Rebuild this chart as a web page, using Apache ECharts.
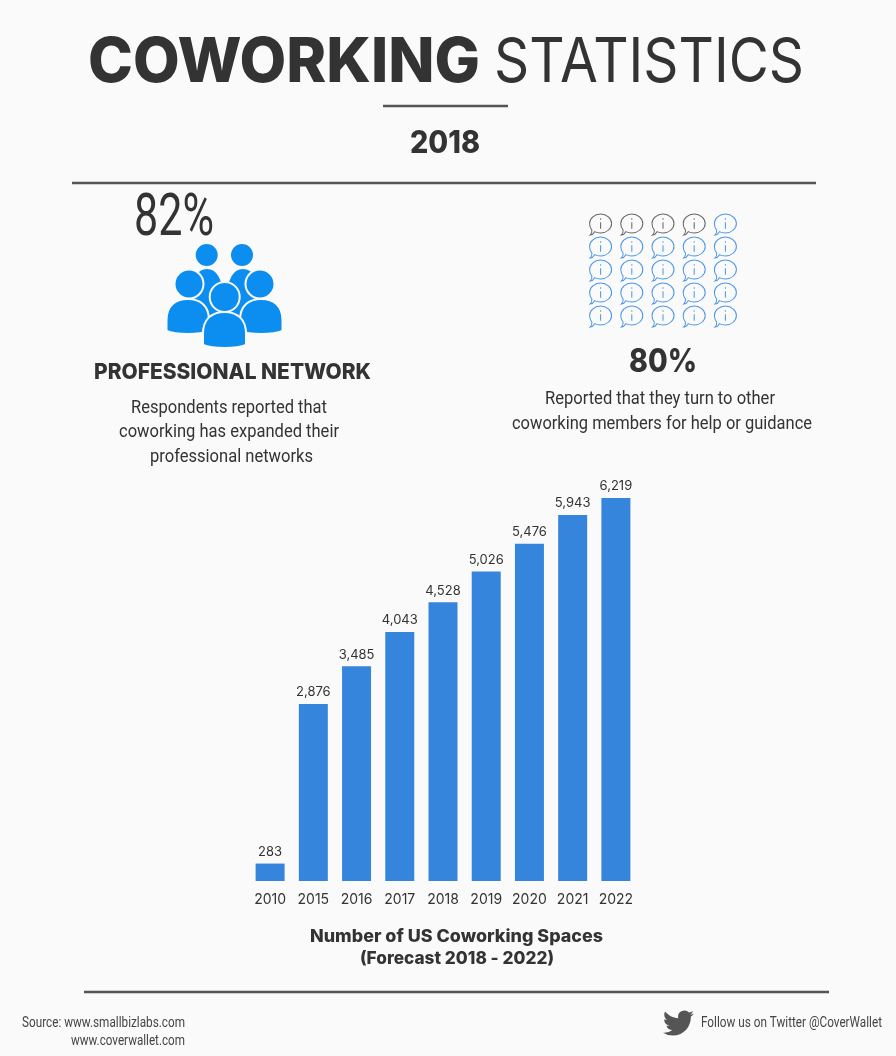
<!DOCTYPE html>
<html>
<head>
<meta charset="utf-8">
<title>Coworking Statistics</title>
<style>
    html, body { margin: 0; padding: 0; background: #fafafa; }
    #main { width: 896px; height: 1056px; }
</style>
<script src="https://cdn.jsdelivr.net/npm/echarts@6/dist/echarts.min.js"></script>
</head>
<body>
<div id="main"></div>
<script>
    // bar chart data
    const years = ['2010', '2015', '2016', '2017', '2018', '2019', '2020', '2021', '2022'];
    const spaces = [283, 2876, 3485, 4043, 4528, 5026, 5476, 5943, 6219];

    // speech bubble grid: 5 x 5, four grey ones in the top row
    const bubbleCols = ['a', 'b', 'c', 'd', 'e'];
    const bubbleRows = ['1', '2', '3', '4', '5'];
    const greyBubbles = ['a1', 'b1', 'c1', 'd1'];

    const DARK = '#333333';
    const LINE = '#555555';
    const BAR = '#3585dc';
    const ICON = '#0b8ef0';
    const BG = '#fafafa';
    const HEAD = 'Inter, sans-serif';
    const BODY = 'Roboto, sans-serif';

    const bubble = 'path://M4 98 C10 93 13 86 12 76 C5 68 2 58 2 46 C2 22 24 3 50 3 C76 3 98 22 98 46 C98 70 76 89 50 89 C40 89 31 87 24 83 C20 91 13 97 4 98 Z M50 40 L50 70 M50 22 L50 29';
    const bird = 'M23.953 4.57 a10 10 0 0 1 -2.825 .775 4.958 4.958 0 0 0 2.163 -2.723 c-.951 .555 -2.005 .959 -3.127 1.184 a4.92 4.92 0 0 0 -8.384 4.482 C7.69 8.095 4.067 6.13 1.64 3.162 a4.822 4.822 0 0 0 -.666 2.475 c0 1.71 .87 3.213 2.188 4.096 a4.904 4.904 0 0 1 -2.228 -.616 v.06 a4.923 4.923 0 0 0 3.946 4.827 4.996 4.996 0 0 1 -2.212 .085 4.936 4.936 0 0 0 4.604 3.417 9.867 9.867 0 0 1 -6.102 2.105 c-.39 0 -.779 -.023 -1.17 -.067 a13.995 13.995 0 0 0 7.557 2.209 c9.053 0 13.998 -7.496 13.998 -13.985 0 -.21 0 -.42 -.015 -.63 A9.935 9.935 0 0 0 24 4.59 z';

    let ctx = document.createElement('canvas').getContext('2d');

    // text squeezed to the width it has in the picture
    function fit(str, x0, x1, y, size, weight, family, color) {
        let font = weight + ' ' + size + 'px ' + family;
        ctx.font = font;
        return {
            type: 'text',
            x: x0,
            y: y + 2,
            scaleX: (x1 - x0) / ctx.measureText(str).width,
            style: {
                text: str,
                font: font,
                fill: color || DARK,
                textAlign: 'left',
                textVerticalAlign: 'middle'
            }
        };
    }

    function rule(x1, x2, y) {
        return {
            type: 'line',
            shape: { x1: x1, y1: y, x2: x2, y2: y },
            style: { stroke: LINE, lineWidth: 2.5 }
        };
    }

    function head(cx, cy, r) {
        return {
            type: 'circle',
            shape: { cx: cx, cy: cy, r: r },
            style: { fill: ICON, stroke: BG, lineWidth: 2 }
        };
    }

    function shoulders(l, r, top, bottom) {
        let m = (l + r) / 2, h = bottom - top;
        let d = 'M' + l + ' ' + (bottom - 3) +
            ' L' + l + ' ' + (top + h * 0.6) +
            ' C' + l + ' ' + (top + h * 0.2) + ' ' + (m - (r - l) * 0.3) + ' ' + top + ' ' + m + ' ' + top +
            ' C' + (m + (r - l) * 0.3) + ' ' + top + ' ' + r + ' ' + (top + h * 0.2) + ' ' + r + ' ' + (top + h * 0.6) +
            ' L' + r + ' ' + (bottom - 3) +
            ' C' + (r - 10) + ' ' + (bottom + 1) + ' ' + (l + 10) + ' ' + (bottom + 1) + ' ' + l + ' ' + (bottom - 3) + ' Z';
        return {
            type: 'path',
            shape: { pathData: d },
            style: { fill: ICON, stroke: BG, lineWidth: 2 }
        };
    }

    function drawIcons() {
        return {
            type: 'group',
            children: [
                shoulders(190, 224, 268, 320),
                shoulders(226, 260, 268, 320),
                head(206.7, 255, 12),
                head(242, 255, 12),
                shoulders(166.5, 209, 299, 334),
                shoulders(240, 282.5, 299, 334),
                head(189, 284, 14.5),
                head(260, 284, 14.5),
                shoulders(203, 246, 312, 348),
                head(224.7, 297, 15)
            ]
        };
    }

    function drawBird() {
        return {
            type: 'path',
            shape: { pathData: bird, x: 663, y: 1008, width: 31, height: 30 },
            style: { fill: LINE }
        };
    }

    let bubbleData = [];
    bubbleRows.forEach(function (row) {
        bubbleCols.forEach(function (col) {
            bubbleData.push({
                value: [col, row],
                itemStyle: { borderColor: greyBubbles.indexOf(col + row) >= 0 ? '#666666' : '#4a97e8' }
            });
        });
    });

    let myChart = echarts.init(document.getElementById('main'));

    let option = {
        backgroundColor: BG,
        animation: false,
        grid: [
            { left: 248.5, top: 498, width: 389, height: 383 },
            { left: 585, top: 213, width: 156, height: 115 }
        ],
        xAxis: [
            {
                type: 'category',
                data: years,
                axisLine: { show: false },
                axisTick: { show: false },
                axisLabel: { margin: 12, fontSize: 14, color: DARK, fontFamily: HEAD, interval: 0 }
            },
            { type: 'category', gridIndex: 1, data: bubbleCols, show: false }
        ],
        yAxis: [
            { type: 'value', min: 0, max: 6219, show: false },
            { type: 'category', gridIndex: 1, data: bubbleRows, inverse: true, show: false }
        ],
        series: [
            {
                type: 'bar',
                data: spaces,
                barWidth: 29,
                itemStyle: { color: BAR },
                label: {
                    show: true,
                    position: 'top',
                    distance: 5,
                    fontSize: 13,
                    color: DARK,
                    fontFamily: HEAD,
                    formatter: function (p) { return p.value.toLocaleString('en-US'); }
                }
            },
            {
                type: 'scatter',
                xAxisIndex: 1,
                yAxisIndex: 1,
                data: bubbleData,
                symbol: bubble,
                symbolSize: [22, 21],
                itemStyle: { color: 'transparent', borderWidth: 1, opacity: 1 }
            },
            {
                type: 'custom',
                coordinateSystem: 'none',
                data: [0],
                silent: true,
                renderItem: drawIcons
            },
            {
                type: 'custom',
                coordinateSystem: 'none',
                data: [0],
                silent: true,
                renderItem: drawBird
            }
        ],
        graphic: [
            fit('COWORKING', 88, 480, 61, 62, 800, HEAD),
            fit('STATISTICS', 494, 804, 61, 62, 400, HEAD),
            rule(383, 508, 106),
            fit('2018', 410, 480, 142, 31, 800, HEAD),
            rule(72, 816, 183),
            fit('82%', 134, 214, 218, 60, 400, BODY),
            fit('PROFESSIONAL NETWORK', 94, 371, 370, 22, 800, HEAD),
            fit('Respondents reported that', 131, 327, 406, 19, 400, BODY),
            fit('coworking has expanded their', 119, 339, 430, 19, 400, BODY),
            fit('professional networks', 150, 313, 455, 19, 400, BODY),
            fit('80%', 629, 697, 360, 32, 800, HEAD),
            fit('Reported that they turn to other', 545, 775, 397, 19, 400, BODY),
            fit('coworking members for help or guidance', 512, 812, 422, 19, 400, BODY),
            fit('Number of US Coworking Spaces', 310, 603, 935, 17, 800, HEAD),
            fit('(Forecast 2018 - 2022)', 360, 554, 957, 17, 800, HEAD),
            rule(84, 829, 992),
            fit('Source: www.smallbizlabs.com', 22, 185, 1021, 14, 400, BODY, '#444444'),
            fit('www.coverwallet.com', 71, 185, 1039, 14, 400, BODY, '#444444'),
            fit('Follow us on Twitter @CoverWallet', 701, 882, 1021, 14, 400, BODY, '#444444')
        ]
    };
    myChart.setOption(option);
</script>
</body>
</html>
